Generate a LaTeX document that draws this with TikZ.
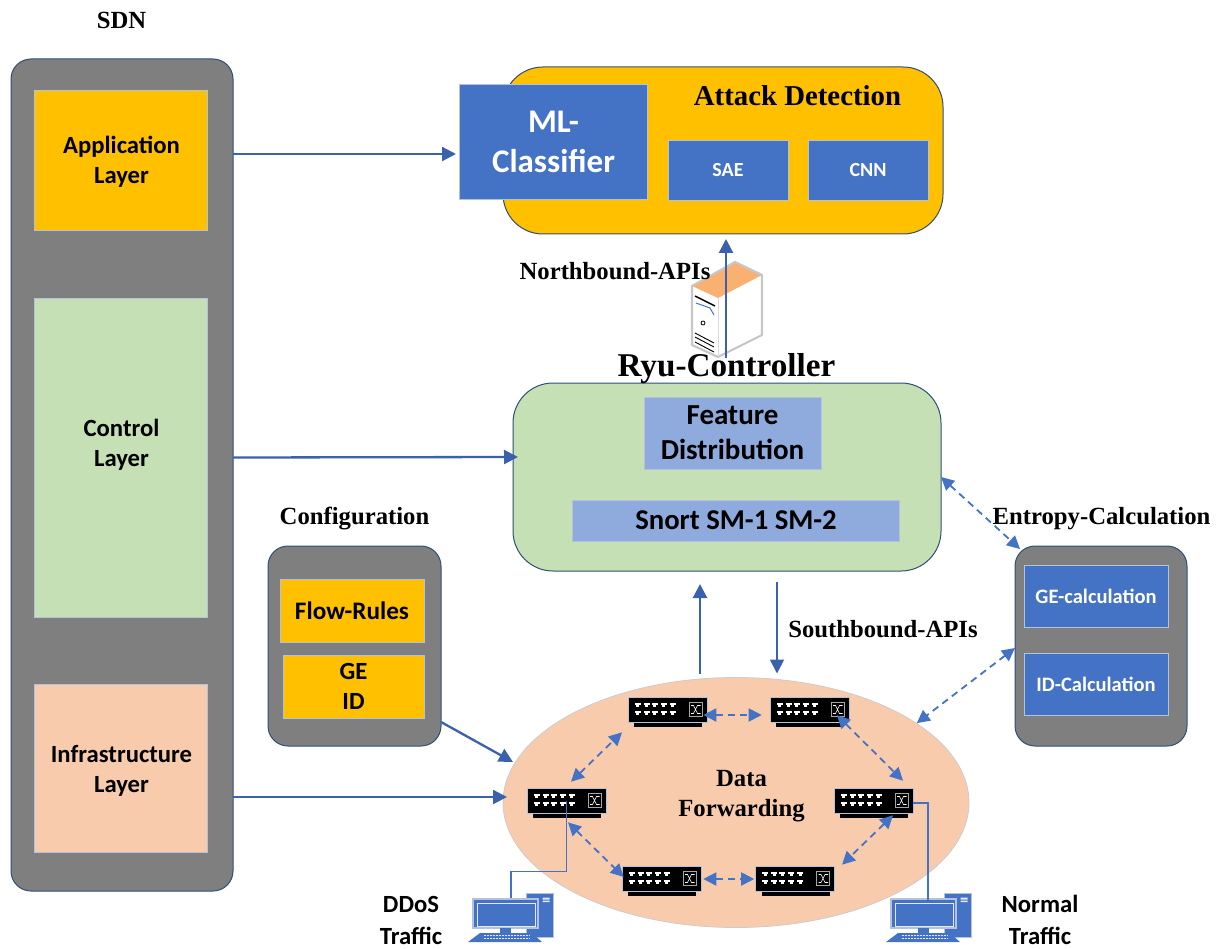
\documentclass[tikz,border=0pt]{standalone}
\usepackage{fontspec}
\setmainfont{Liberation Serif}
\newfontfamily\calfont{Carlito}
\usetikzlibrary{arrows.meta}
\usetikzlibrary{positioning}
\usetikzlibrary{shapes.geometric}
\usetikzlibrary{calc}

\definecolor{sdngray}{HTML}{7F7F7F}
\definecolor{edgeblue}{HTML}{2F4F7A}
\definecolor{paleedge}{HTML}{B4C2DC}
\definecolor{amber}{HTML}{FFC000}
\definecolor{leaf}{HTML}{C5E0B4}
\definecolor{peach}{HTML}{F8CBAD}
\definecolor{royal}{HTML}{4472C4}
\definecolor{skyblue}{HTML}{8FAADC}
\definecolor{linkblue}{HTML}{3A62AC}

\tikzset{
    box/.style={draw=paleedge, line width=0.7pt, inner sep=0pt, outer sep=0pt, align=center},
    bigbox/.style={draw=edgeblue, line width=1pt, inner sep=0pt, outer sep=0pt, rounded corners=#1},
    sanslbl/.style={font=\calfont\bfseries\fontsize{#1}{30}\selectfont, text=black, align=center},
    seriflbl/.style={font=\bfseries\fontsize{#1}{30}\selectfont, text=black, align=center},
    flow/.style={->, >={Triangle[length=14pt,width=14pt]}, draw=linkblue, line width=2.3pt},
    duplex/.style={<->, >={Triangle[length=13pt,width=13pt]}, draw=royal, line width=1.8pt, dash pattern=on 7pt off 5pt},
    wire/.style={draw=royal, line width=1.8pt},
    switchpic/.pic={
        \node[fill=black, draw=paleedge, line width=0.6pt, minimum width=79pt, minimum height=25pt, inner sep=0pt] (-body) at (0,0) {};
        \fill[black] (-33.5,13.5) rectangle (34.5,17.5);
        \foreach \xp in {-30,-21,-13,-4,5} {
            \foreach \yp in {-5,3} {
                \fill[white] (\xp-3,\yp-1.5) rectangle (\xp+3,\yp+0.5);
                \fill[white] (\xp-1.5,\yp+0.5) rectangle (\xp+1.5,\yp+2);
            }
        }
        \draw[gray!70!white, line width=0.7pt] (21.5,-7) rectangle (34.5,7);
        \draw[white, line width=0.6pt] (23.5,-4) -- (26,-4) -- (30,4) -- (33,4) (23.5,4) -- (26,4) -- (30,-4) -- (33,-4);
    },
    pcpic/.pic={
        \fill[royal] (20.5,-20.5) rectangle (47.5,23.5);
        \draw[paleedge, line width=0.7pt] (20.5,-20.5) rectangle (47.5,23.5);
        \fill[white!85!royal] (37,-16) rectangle (44,-14) (37,-13) rectangle (44,-11.5);
        \node[fill=royal, draw=paleedge, line width=1.2pt, minimum width=65pt, minimum height=29pt, inner sep=0pt] (-mon) at (0,0) {};
        \draw[white!85!royal, line width=0.7pt] (-28.5,-10.5) rectangle (29.5,12.5);
        \fill[royal] (-5.5,14.5) rectangle (5.5,19.5);
        \fill[royal] (-37.5,28.5) -- (-25.5,19.5) -- (26.5,19.5) -- (36.5,28.5) -- cycle;
        \foreach \yp in {22,24.5} {
            \draw[white!85!royal, line width=0.8pt, dash pattern=on 2pt off 1pt] (-22,\yp) -- (24,\yp);
        }
    },
    serverpic/.pic={
        \fill[white] (-34,-24) -- (9,-48) -- (36,-35) -- (36,25) -- (-8,47) -- (-34,35) -- cycle;
        \fill[orange!35!peach] (-34,-24) -- (9,-48) -- (36,-35) -- (-8,-12) -- cycle;
        \draw[black!22, line width=2.2pt, line join=round] (-34,-24) -- (9,-48) -- (36,-35) -- (36,25) -- (-8,47) -- (-34,35) -- cycle;
        \draw[black!15, line width=0.8pt] (-8,-12) -- (-8,47);
        \draw[black, line width=1.5pt] (-31,-14) -- (-11,-4);
        \draw[royal, line width=1pt] (-30,-7) -- (-16,-2) -- (-12,5);
        \draw[black, line width=0.8pt] (-23,13) circle (2);
        \foreach \yp in {23,27,32} {
            \draw[black, line width=0.9pt] (-31,\yp) -- (-12,\yp+10);
        }
    }
}

\begin{document}
\begin{tikzpicture}[x=1pt,y=-1pt,on grid]
    \useasboundingbox (0,0) rectangle (1217,949);

    \node[bigbox=20pt, fill=sdngray, minimum width=222pt, minimum height=832pt] (sdn_box) at (122,475) {};
    \node[box, fill=amber, minimum width=173pt, minimum height=140pt] (app_l) at (121,160) {};
    \node[box, fill=leaf, minimum width=173pt, minimum height=319pt] (ctrl_l) at (121,457.5) {};
    \node[box, fill=peach, minimum width=173pt, minimum height=168pt] (infra_l) at (121,768) {};
    \node[sanslbl=24.7] (app_lbl) at (121.5,161.5) {Application\\Layer};
    \node[sanslbl=24.7] (ctrl_lbl) at (121.5,444.5) {Control\\Layer};
    \node[sanslbl=24.7] (infra_lbl) at (121.5,771) {Infrastructure\\Layer};
    \node[seriflbl=24.7] (sdn_lbl) at (121.5,20) {SDN};

    \node[bigbox=40pt, fill=amber, minimum width=440pt, minimum height=167pt] (attack_box) at (723,150.5) {};
    \node[box, fill=royal, minimum width=188pt, minimum height=115pt, text=white, font=\calfont\bfseries\fontsize{33}{40}\selectfont] (classifier) at (553.5,142) {ML-\\Classifier};
    \node[box, fill=royal, minimum width=120pt, minimum height=60pt, sanslbl=20, text=white] (sae) at (728,170) {SAE};
    \node[box, fill=royal, minimum width=120pt, minimum height=60pt, sanslbl=20, text=white] (cnn) at (868,170) {CNN};
    \node[seriflbl=28.8] (attack_lbl) at (797.5,96) {Attack Detection};

    \pic (srv) at (726,310) {serverpic};
    \node[seriflbl=24.7] (north_lbl) at (615,271) {Northbound-APIs};

    \node[bigbox=40pt, fill=leaf, minimum width=428pt, minimum height=188pt] (ryu_box) at (727,477) {};
    \node[seriflbl=33.2] (ryu_lbl) at (726.5,369) {Ryu-Controller};
    \node[box, fill=skyblue, minimum width=177pt, minimum height=72pt, font=\calfont\bfseries\fontsize{29}{35}\selectfont] (feat_box) at (732.5,433) {Feature\\Distribution};
    \node[box, fill=skyblue, minimum width=327pt, minimum height=41pt, sanslbl=28.7] (snort_box) at (736,520.5) {Snort SM-1 SM-2};

    \node[seriflbl=24.7] (cfg_lbl) at (354.5,518.5) {Configuration};
    \node[bigbox=20pt, fill=sdngray, minimum width=173pt, minimum height=200pt] (cfg_box) at (354.5,646) {};
    \node[box, fill=amber, minimum width=144pt, minimum height=63pt, sanslbl=25.2] (rules_box) at (352,610.5) {Flow-Rules};
    \node[box, fill=amber, minimum width=141pt, minimum height=63pt, sanslbl=24.7] (geid_box) at (353.5,686.5) {GE\\ID};

    \node[seriflbl=24.7] (ent_lbl) at (1101.5,518.5) {Entropy-Calculation};
    \node[bigbox=20pt, fill=sdngray, minimum width=172pt, minimum height=200pt] (ent_box) at (1101,646) {};
    \node[box, fill=royal, minimum width=144pt, minimum height=62pt, sanslbl=20.5, text=white] (ge_box) at (1096,596) {GE-calculation};
    \node[box, fill=royal, minimum width=144pt, minimum height=62pt, sanslbl=20.5, text=white] (id_box) at (1096,684) {ID-Calculation};

    \node[ellipse, draw=black!20, fill=peach, line width=0.8pt, minimum width=466pt, minimum height=250pt, inner sep=0pt, outer sep=0pt] (data_ell) at (736,802.5) {};
    \node[seriflbl=24.7] (data_lbl) at (741.5,796.5) {Data\\Forwarding};
    \node[seriflbl=24.7] (south_lbl) at (883,629) {Southbound-APIs};

    \pic (sw_1) at (667.5,709.5) {switchpic};
    \pic (sw_2) at (809.5,709.5) {switchpic};
    \pic (sw_3) at (566.5,800.5) {switchpic};
    \pic (sw_4) at (873.5,800.5) {switchpic};
    \pic (sw_5) at (661.5,878.5) {switchpic};
    \pic (sw_6) at (795,878.5) {switchpic};
    \pic (pc_d) at (505.5,913.5) {pcpic};
    \pic (pc_n) at (923.5,913.5) {pcpic};
    \node[font=\calfont\bfseries\fontsize{24.7}{32}\selectfont, align=center] (ddos_lbl) at (411,920) {DDoS\\Traffic};
    \node[font=\calfont\bfseries\fontsize{24.7}{32}\selectfont, align=center] (norm_lbl) at (1040,920) {Normal\\Traffic};

    \draw[flow] ($(sdn_box.east |- app_l.east)+(0,-6)$) -- ($(classifier.west)+(-3.5,12)$);
    \draw[flow] (sdn_box.east |- ctrl_l.east) -- ($(ryu_box.west)+(5,-20)$);
    \draw[flow] ($(sdn_box.east |- infra_l.east)+(0,29)$) -- ($(data_ell.west)+(4,-5.5)$);
    \draw[flow] ($(cfg_box.east)+(0,76)$) -- ($(data_ell.west)+(10,-40.5)$);
    \draw[flow] ($(ryu_box.north)+(-1,-25)$) -- ($(attack_box.south)+(3,5)$);
    \draw[flow] ($(data_ell.north)+(-36,-4)$) -- ($(ryu_box.south)+(-27,13)$);
    \draw[flow, line width=1.8pt] ($(ryu_box.south)+(50,11)$) -- ($(data_ell.north)+(41,-4)$);

    \draw[duplex] (ryu_box.east) -- ($(ent_box.north west)+(5,3)$);
    \draw[duplex] ($(ent_box.west)+(0,2)$) -- ($(data_ell.north east)+(16,9)$);

    \draw[duplex] ($(sw_1-body.east)+(-4,5.5)$) -- ($(sw_2-body.west)+(-8,5.5)$);
    \draw[duplex] ($(sw_3-body.north)+(4.5,-6)$) -- ($(sw_1-body.south)+(-45.5,10)$);
    \draw[duplex] ($(sw_2-body.south)+(27.5,-7)$) -- ($(sw_4-body.north)+(29.5,-7)$);
    \draw[duplex] ($(sw_3-body.south)+(1.5,9)$) -- ($(sw_5-body.west)+(2,-1.5)$);
    \draw[duplex] ($(sw_5-body.east)+(2,0.5)$) -- ($(sw_6-body.west)+(-1,0.5)$);
    \draw[duplex] ($(sw_4-body.south)+(19.5,2)$) -- ($(sw_6-body.north)+(47,-1)$);

    \draw[wire] (sw_3-body.center) -- ($(sw_3-body.center)+(0,71)$) -| ($(pc_d-mon.north)+(5.5,0)$);
    \draw[wire] ($(sw_4-body.east)+(0,2.5)$) -| ($(pc_n-mon.north)+(4.5,2)$);
\end{tikzpicture}
\end{document}
